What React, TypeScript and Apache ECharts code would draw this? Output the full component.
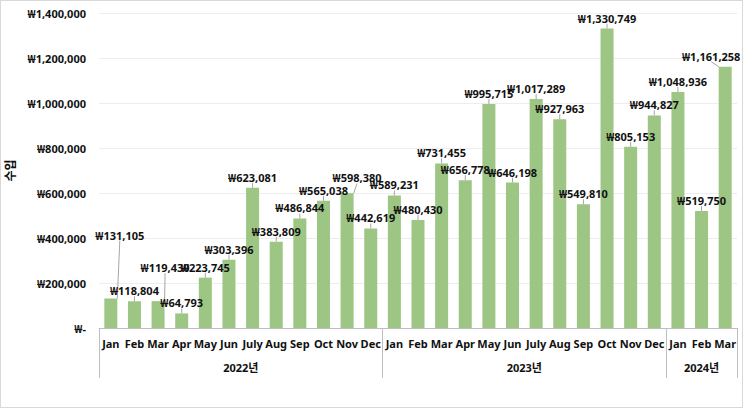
import React, { useEffect, useRef } from "react";
import * as echarts from "echarts";

// Monthly income, Jan 2022 – Mar 2024
const months: string[] = [
  "Jan", "Feb", "Mar", "Apr", "May", "Jun", "July", "Aug", "Sep", "Oct", "Nov", "Dec",
  "Jan", "Feb", "Mar", "Apr", "May", "Jun", "July", "Aug", "Sep", "Oct", "Nov", "Dec",
  "Jan", "Feb", "Mar",
];

const income: number[] = [
  131105, 118804, 119430, 64793, 223745, 303396, 623081, 383809, 486844, 565038, 598380, 442619,
  589231, 480430, 731455, 656778, 995715, 646198, 1017289, 927963, 549810, 1330749, 805153, 944827,
  1048936, 519750, 1161258,
];

// Year groups: label, first month index, number of months
const yearGroups: { label: string; start: number; count: number }[] = [
  { label: "2022년", start: 0, count: 12 },
  { label: "2023년", start: 12, count: 12 },
  { label: "2024년", start: 24, count: 3 },
];

const yAxisTitle = "수입";

const FONT = "'Noto Sans', 'Noto Sans CJK KR', sans-serif";
const won = (v: number) => (v === 0 ? "₩-" : "₩" + v.toLocaleString("en-US"));

// A few labels are pulled away from their bars to avoid crowding
const labelNudge: Record<number, [number, number]> = {
  0: [9, -53],
  2: [7, -23],
  10: [10, -5],
  26: [-14, 0],
};

const TEXT = { fontSize: 11, fontWeight: "bold", color: "#111", fontFamily: FONT };

export default function App() {
  const ref = useRef<HTMLDivElement>(null);

  useEffect(() => {
    if (!ref.current) return;
    const chart = echarts.init(ref.current, undefined, { renderer: "svg" });

    const total = months.length;
    const groupCenters = yearGroups.map((g) => g.start + g.count / 2);
    const groupEdges = [...yearGroups.map((g) => g.start), total];

    chart.setOption({
      animation: false,
      backgroundColor: "#ffffff",
      textStyle: { fontFamily: FONT },
      grid: {
        left: 98,
        right: 5,
        top: 12,
        bottom: 79,
        containLabel: false,
        outerBoundsMode: "none",
      },
      xAxis: [
        {
          type: "category",
          data: months,
          axisLine: { show: true, lineStyle: { color: "#BFBFBF", width: 1 } },
          axisTick: { show: false },
          axisLabel: { interval: 0, margin: 10, ...TEXT },
        },
        {
          type: "value",
          position: "bottom",
          min: 0,
          max: total,
          axisLine: { show: false },
          splitLine: { show: false },
          axisTick: {
            show: true,
            customValues: groupEdges,
            length: 50,
            lineStyle: { color: "#BFBFBF", width: 1 },
          },
          axisLabel: {
            show: true,
            customValues: groupCenters,
            margin: 34,
            ...TEXT,
            formatter: (v: number) => {
              const i = groupCenters.indexOf(v);
              return i >= 0 ? yearGroups[i].label : "";
            },
          },
        },
      ],
      yAxis: {
        type: "value",
        min: 0,
        max: 1400000,
        interval: 200000,
        name: yAxisTitle,
        nameLocation: "middle",
        nameGap: 80,
        nameRotate: 90,
        nameTextStyle: { ...TEXT, fontSize: 12 },
        axisLine: { show: false },
        axisTick: { show: false },
        splitLine: { show: true, lineStyle: { color: "#EDEDED", width: 1 } },
        axisLabel: { margin: 13, ...TEXT, formatter: won },
      },
      series: [
        {
          type: "bar",
          xAxisIndex: 0,
          data: income,
          barWidth: 13,
          itemStyle: { color: "#9DC583" },
          label: {
            show: true,
            position: "top",
            distance: 5,
            ...TEXT,
            formatter: (p: any) => won(p.value),
          },
          labelLine: { show: true, lineStyle: { color: "#A6A6A6", width: 1 } },
          labelLayout: (params: any) => {
            const n = labelNudge[params.dataIndex];
            return n ? { dx: n[0], dy: n[1] } : {};
          },
        },
      ],
    });

    return () => chart.dispose();
  }, []);

  return (
    <div
      style={{
        position: "fixed",
        left: 0,
        top: 0,
        width: 743,
        height: 408,
        boxSizing: "border-box",
        border: "1px solid #D9D9D9",
        background: "#fff",
      }}
    >
      <div ref={ref} style={{ width: 741, height: 406 }} />
    </div>
  );
}
